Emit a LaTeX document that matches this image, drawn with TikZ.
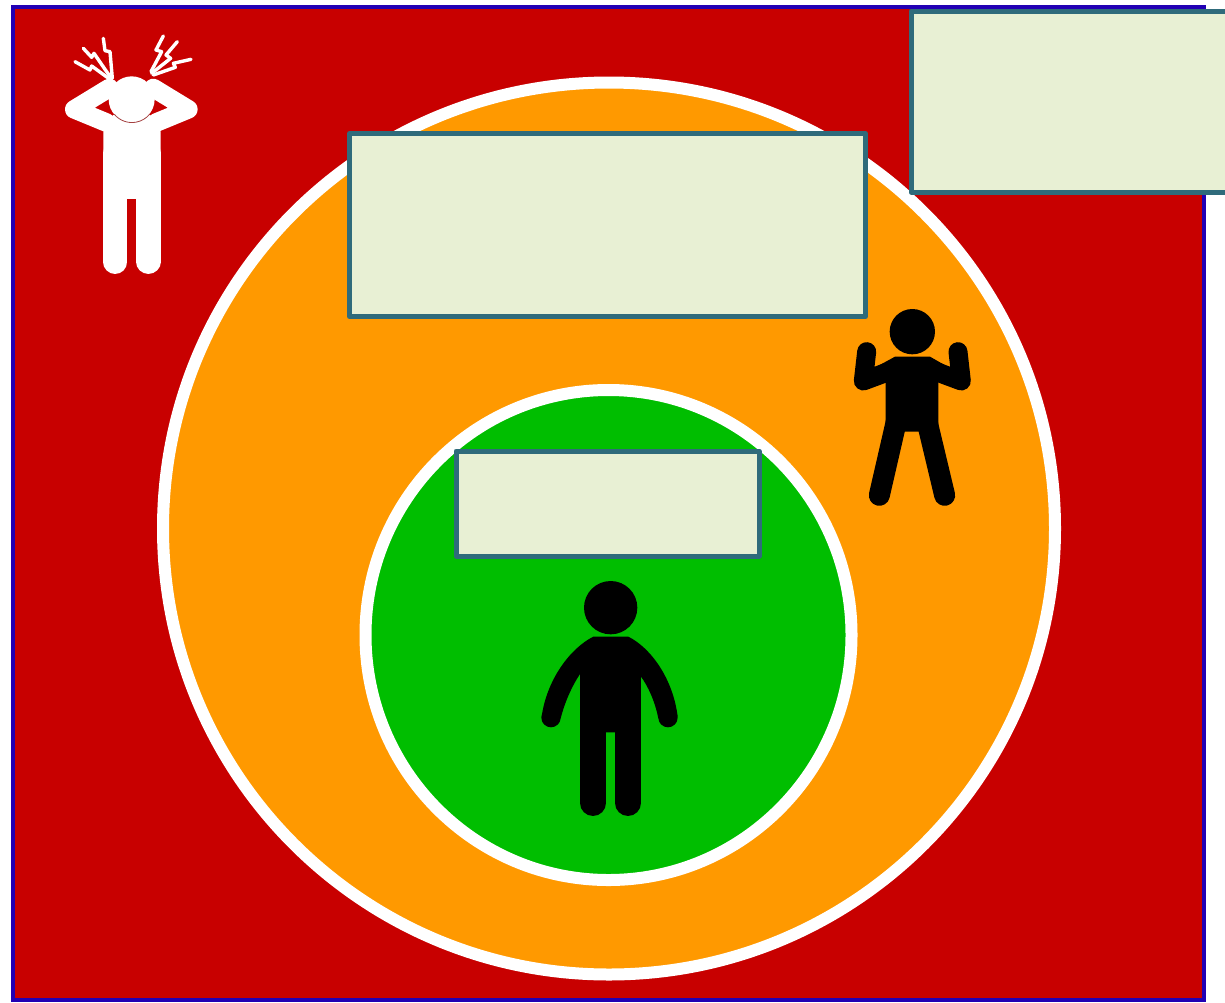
\documentclass[tikz,border=0pt]{standalone}
\definecolor{cred}{HTML}{C80000}
\definecolor{corange}{HTML}{FF9900}
\definecolor{cgreen}{HTML}{00BE00}
\definecolor{cbox}{HTML}{E8F0D4}
\definecolor{cteal}{HTML}{2F6B7B}
\definecolor{cframe}{HTML}{2200B4}
\tikzset{
  frameback/.style={fill=cred,draw=cframe,line width=4pt},
  ring/.style={draw=white,line width=12pt},
  labelbox/.style={fill=cbox,draw=cteal,line width=5pt,line join=round,outer sep=0pt,inner sep=0pt,anchor=north west},
  bolt/.style={draw=white,line width=3.4pt,line join=round,line cap=round},
  limb/.style={line cap=round,line join=round},
  zoomA/.style={shift={(50,20)},x=0.3333pt,y=-0.3333pt},
  zoomB/.style={shift={(840,300)},x=0.3333pt,y=-0.3333pt},
  zoomC/.style={shift={(530,570)},x=0.3333pt,y=-0.3333pt},
}
\begin{document}
\begin{tikzpicture}[x=1pt,y=-1pt]
\useasboundingbox (0,0) rectangle (1225,1002);
\path[fill=white] (0,0) rectangle (1225,1002);
\draw[frameback] (12.5,6.5) rectangle (1204,1000);
\draw[ring,fill=corange] (609,528.5) circle[radius=446];
\draw[ring,fill=cgreen] (608.5,635) ellipse[x radius=243,y radius=245];
% white figure
\begin{scope}[zoomA]
  \fill[white] (190,285) -- (300,285) -- (332,335) -- (332,537) -- (160,537) -- (160,335) -- cycle;
  \draw[white,limb,line width=24pt] (196,400) -- (196,726);
  \draw[white,limb,line width=24.6pt] (295,400) -- (295,725);
  \draw[white,limb,line width=18.6pt] (178,204) -- (73,268) -- (170,308);
  \draw[white,limb,line width=18.6pt] (310,204) -- (415,268) -- (318,308);
  \fill[white] (245,238) circle[radius=69];
  \draw[cred!50!gray,line width=0.8pt] (193,283) arc[start angle=140,end angle=40,radius=69];
  \draw[bolt] (160,55) -- (165,92) -- (180,95) -- (187,175);
  \draw[bolt] (100,85) -- (125,112) -- (132,100) -- (165,148) -- (185,176);
  \draw[bolt] (75,125) -- (120,150) -- (125,138) -- (180,178);
  \draw[bolt] (340,48) -- (318,90) -- (335,95) -- (303,155);
  \draw[bolt] (382,65) -- (348,105) -- (362,115) -- (305,160);
  \draw[bolt] (423,118) -- (370,130) -- (376,142) -- (310,165);
\end{scope}
% raised-arms figure
\begin{scope}[zoomB]
  \fill[black] (217,95) circle[radius=68];
  \fill[black] (165,170) -- (270,170) -- (335,207) -- (295,245) -- (295,395)
    -- (137,395) -- (137,245) -- (97,207) -- cycle;
  \draw[black,limb,line width=19pt] (80,155) -- (70,243) -- (140,217);
  \draw[black,limb,line width=19pt] (354,155) -- (364,243) -- (294,217);
  \draw[black,limb,line width=21pt] (170,360) -- (118,586);
  \draw[black,limb,line width=21pt] (260,360) -- (314,586);
\end{scope}
% calm figure
\begin{scope}[zoomC]
  \fill[black] (242,113) circle[radius=80];
  \fill[black] (190,200) -- (295,200)
    .. controls (365,235) and (430,330) .. (443,440)
    -- (385,445)
    .. controls (375,395) and (355,350) .. (333,320)
    -- (333,487) -- (150,487) -- (150,312)
    .. controls (125,350) and (105,395) .. (92,445)
    -- (35,440)
    .. controls (50,330) and (120,235) .. (190,200) -- cycle;
  \fill[black] (63,443) circle[radius=29];
  \fill[black] (414,443) circle[radius=29];
  \draw[black,limb,line width=26pt] (189,450) -- (189,699);
  \draw[black,limb,line width=26pt] (294,450) -- (294,699);
\end{scope}
% text boxes
\node[labelbox,minimum width=516pt,minimum height=183pt] (boxtop) at (349.5,133.5) {};
\node[labelbox,minimum width=330pt,minimum height=181pt] (boxcorner) at (911,11) {};
\node[labelbox,minimum width=303pt,minimum height=105pt] (boxinner) at (456,451) {};
\end{tikzpicture}
\end{document}
